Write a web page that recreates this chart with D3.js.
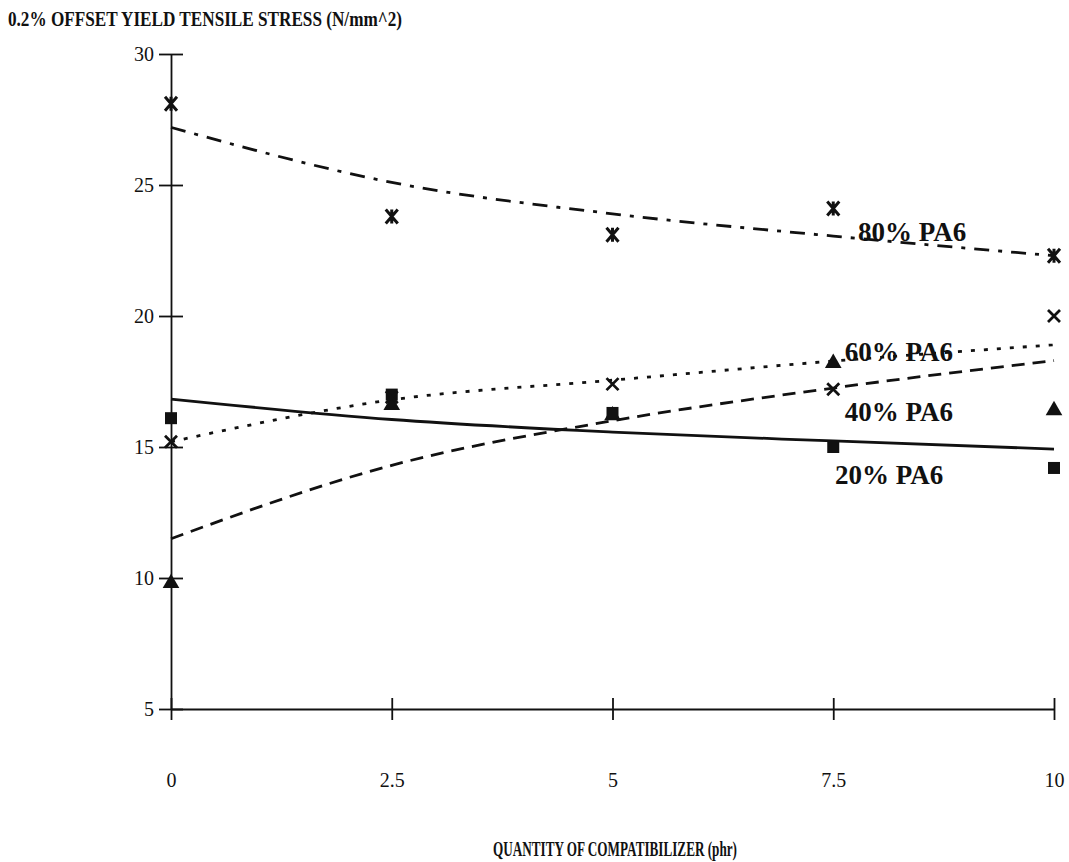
<!DOCTYPE html>
<html>
<head>
<meta charset="utf-8">
<script src="https://cdn.jsdelivr.net/npm/d3@7"></script>
<style>
  html, body { margin: 0; padding: 0; background: #fff; }
  svg { display: block; }
  svg text { font-family: "Liberation Serif", "Times New Roman", serif; }
</style>
</head>
<body>
<svg id="chart" width="1069" height="862"></svg>
<script>
// Compatibilizer loading (phr)
const compatibilizer = [0, 2.5, 5, 7.5, 10];

// Measured 0.2% offset yield stress (N/mm^2) per blend
const squareSeries   = [16.1, 17.0, 16.3, 15.0, 14.2];
const triangleSeries = [9.8, 16.6, 16.2, 18.2, 16.4];
const crossSeries    = [15.2, 16.9, 17.4, 17.2, 20.0];
const starSeries     = [28.1, 23.8, 23.1, 24.1, 22.3];

// Fitted trend curves, sampled at the same loadings
const squareTrend   = [16.83, 16.05, 15.57, 15.23, 14.92];
const triangleTrend = [11.5, 14.3, 16.0, 17.25, 18.3];
const crossTrend    = [15.2, 16.8, 17.55, 18.28, 18.9];
const starTrend     = [27.2, 25.1, 23.9, 23.05, 22.3];

// Axis ticks
const xTicks = [0, 2.5, 5, 7.5, 10];
const yTicks = [5, 10, 15, 20, 25, 30];

// Curve labels (anchored in data units)
const labelText = ["80% PA6", "60% PA6", "40% PA6", "20% PA6"];
const labelX    = [7.78, 7.63, 7.63, 7.52];
const labelY    = [22.85, 18.3, 16.0, 13.6];

const svg = d3.select("#chart");

const x = d3.scaleLinear().domain([0, 10]).range([171, 1054]);
const y = d3.scaleLinear().domain([5, 30]).range([709, 54]);

const serif = '"Liberation Serif", "Times New Roman", serif';

// Y axis with ticks crossing the line
const yAxis = svg.append("g")
  .attr("transform", `translate(${x(0)},0)`)
  .call(d3.axisLeft(y).tickValues(yTicks).tickSizeOuter(0).tickSizeInner(12).tickFormat(d3.format("d")))
  .attr("font-family", serif);
yAxis.select(".domain").attr("stroke", "#111").attr("stroke-width", 1.8);
yAxis.selectAll(".tick line").attr("x1", -12).attr("x2", 12).attr("stroke", "#111").attr("stroke-width", 1.8);
yAxis.selectAll(".tick text")
  .attr("x", -17).attr("fill", "#111")
  .style("font-size", "20px");

// X axis, sitting on the y = 5 baseline
const xAxis = svg.append("g")
  .attr("transform", `translate(0,${y(5)})`)
  .call(d3.axisBottom(x).tickValues(xTicks).tickSizeOuter(0).tickSizeInner(11).tickFormat(d => String(d)))
  .attr("font-family", serif);
xAxis.select(".domain").attr("stroke", "#111").attr("stroke-width", 1.8);
xAxis.selectAll(".tick line").attr("y1", -11).attr("y2", 11).attr("stroke", "#111").attr("stroke-width", 1.8);
xAxis.selectAll(".tick text")
  .attr("y", 64).attr("fill", "#111")
  .style("font-size", "20px");

// Titles
svg.append("text")
  .attr("x", 8).attr("y", 26)
  .attr("fill", "#111")
  .style("font-size", "21px").style("font-weight", "bold")
  .attr("textLength", 394).attr("lengthAdjust", "spacingAndGlyphs")
  .text("0.2% OFFSET YIELD TENSILE STRESS (N/mm^2)");

svg.append("text")
  .attr("x", 493).attr("y", 856)
  .attr("fill", "#111")
  .style("font-size", "22px").style("font-weight", "bold")
  .attr("textLength", 244).attr("lengthAdjust", "spacingAndGlyphs")
  .text("QUANTITY OF COMPATIBILIZER (phr)");

// Trend curves
const line = d3.line()
  .x((d, i) => x(compatibilizer[i]))
  .y(d => y(d))
  .curve(d3.curveMonotoneX);

const trends = [
  { values: squareTrend,   dash: null },
  { values: triangleTrend, dash: "13,8" },
  { values: crossTrend,    dash: "4,9" },
  { values: starTrend,     dash: "15,9,4,9" }
];
svg.append("g").selectAll("path")
  .data(trends)
  .join("path")
  .attr("d", d => line(d.values))
  .attr("fill", "none")
  .attr("stroke", "#111")
  .attr("stroke-width", 2.8)
  .attr("stroke-dasharray", d => d.dash);

// Markers
const pts = arr => arr.map((v, i) => ({ cx: x(compatibilizer[i]), cy: y(v) }));
const marks = svg.append("g");

marks.selectAll(".tri")
  .data(pts(triangleSeries))
  .join("path")
  .attr("transform", d => `translate(${d.cx},${d.cy})`)
  .attr("d", d3.symbol(d3.symbolTriangle, 120)())
  .attr("fill", "#111");

marks.selectAll(".sq")
  .data(pts(squareSeries))
  .join("rect")
  .attr("x", d => d.cx - 6).attr("y", d => d.cy - 6)
  .attr("width", 12).attr("height", 12)
  .attr("fill", "#111");

marks.selectAll(".cr")
  .data(pts(crossSeries))
  .join("path")
  .attr("d", d => `M${d.cx - 6},${d.cy - 6}L${d.cx + 6},${d.cy + 6}M${d.cx + 6},${d.cy - 6}L${d.cx - 6},${d.cy + 6}`)
  .attr("stroke", "#111").attr("stroke-width", 2.8).attr("fill", "none");

marks.selectAll(".st")
  .data(pts(starSeries))
  .join("path")
  .attr("d", d => `M${d.cx - 6},${d.cy - 7}L${d.cx + 6},${d.cy + 7}M${d.cx + 6},${d.cy - 7}L${d.cx - 6},${d.cy + 7}` +
                  `M${d.cx},${d.cy - 7}V${d.cy + 7}`)
  .attr("stroke", "#111").attr("stroke-width", 3).attr("fill", "none");

// Curve labels
svg.append("g").selectAll("text")
  .data(labelText)
  .join("text")
  .attr("x", (d, i) => x(labelX[i]))
  .attr("y", (d, i) => y(labelY[i]))
  .attr("fill", "#111")
  .style("font-size", "27px").style("font-weight", "bold")
  .text(d => d);
</script>
</body>
</html>
